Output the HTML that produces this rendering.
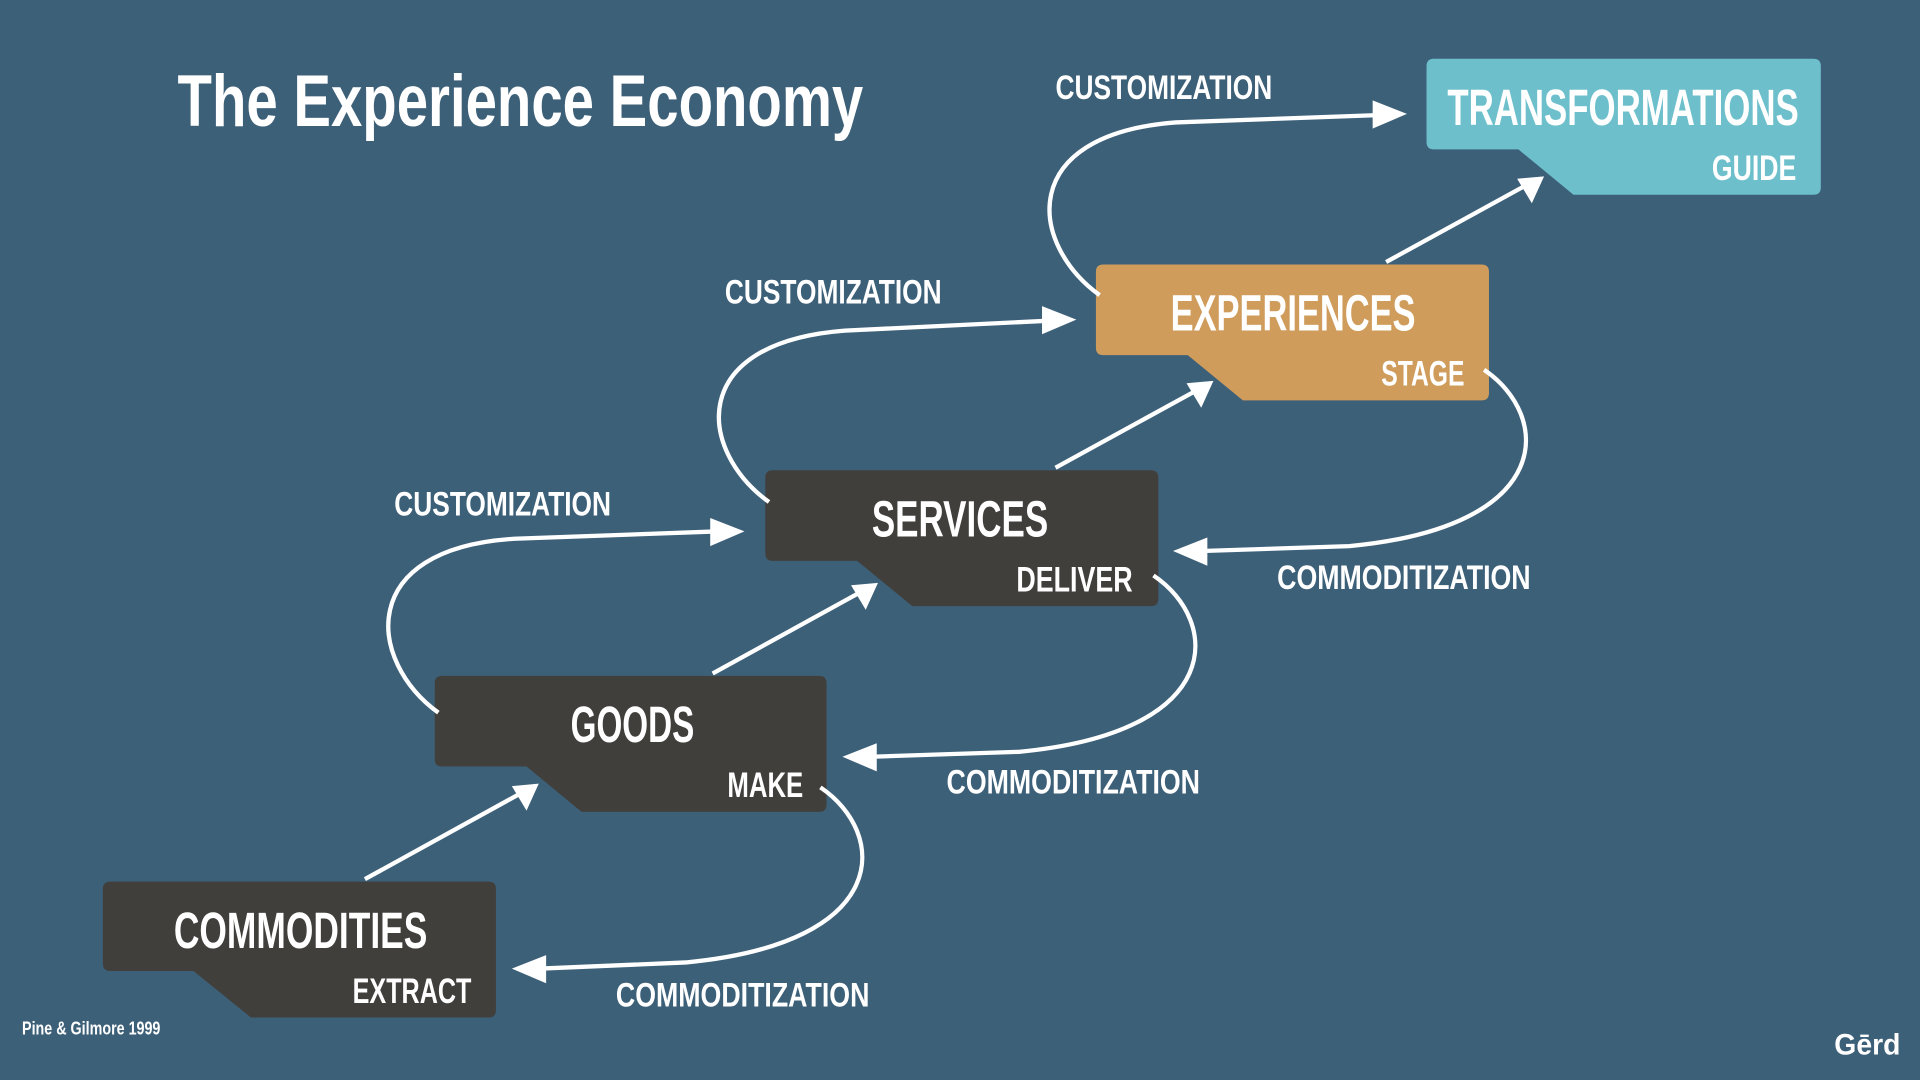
<!DOCTYPE html>
<html><head><meta charset="utf-8"><style>
html,body{margin:0;padding:0;background:#3d6079;width:1920px;height:1080px;overflow:hidden}
svg{display:block}
text{font-family:"Liberation Sans",sans-serif;font-weight:bold;fill:#fff}
</style></head><body>
<svg width="1920" height="1080" viewBox="0 0 1568 882" preserveAspectRatio="none">
<rect width="1568" height="882" fill="#3d6079"/>
<path d="M90,720 H399 Q405,720 405,726 V825 Q405,831 399,831 H205 L158,793 H90 Q84,793 84,787 V726 Q84,720 90,720Z" fill="#403f3c"/>
<path d="M361,552 H669 Q675,552 675,558 V657 Q675,663 669,663 H475 L430,626 H361 Q355,626 355,620 V558 Q355,552 361,552Z" fill="#403f3c"/>
<path d="M631,384 H940 Q946,384 946,390 V489 Q946,495 940,495 H745 L700,458 H631 Q625,458 625,452 V390 Q625,384 631,384Z" fill="#403f3c"/>
<path d="M901,216 H1210 Q1216,216 1216,222 V321 Q1216,327 1210,327 H1015 L970,290 H901 Q895,290 895,284 V222 Q895,216 901,216Z" fill="#cf9c5c"/>
<path d="M1171,48 H1481 Q1487,48 1487,54 V153 Q1487,159 1481,159 H1285 L1240,122 H1171 Q1165,122 1165,116 V54 Q1165,48 1171,48Z" fill="#6dbfcc"/>
<g fill="none" stroke="#fff" stroke-width="3.5">
<path d="M298,718 L425,648"/>
<path d="M582,550 L702,484"/>
<path d="M862,382 L975,320"/>
<path d="M1132,214 L1245,152"/>
<path d="M358,582 C300,540 290,448 420,440 L585,434"/>
<path d="M628,410 C570,368 560,280 690,270 L855,262"/>
<path d="M898,241 C840,199 830,110 960,100 L1125,94"/>
<path d="M670,643 C725,680 730,770 560,786 L442,791"/>
<path d="M942,470 C997,507 1002,598 832,614 L712,618"/>
<path d="M1212,302 C1267,339 1272,430 1102,446 L982,450"/>
</g>
<g fill="#fff">
<polygon points="440,640 418,642 430,662"/>
<polygon points="717,476 695,478 707,498"/>
<polygon points="991,311 969,313 981,333"/>
<polygon points="1261,144 1239,146 1251,166"/>
<polygon points="608,434 580,423 580,446"/>
<polygon points="879,261 851,250 851,273"/>
<polygon points="1149,93 1121,82 1121,105"/>
<polygon points="418,791 446,780 446,803"/>
<polygon points="688,618 716,607 716,630"/>
<polygon points="958,450 986,439 986,462"/>
</g>
<text x="145" y="103" font-size="60" textLength="560" lengthAdjust="spacingAndGlyphs">The Experience Economy</text>
<text x="142" y="774" font-size="42" textLength="207" lengthAdjust="spacingAndGlyphs">COMMODITIES</text>
<text x="288" y="819" font-size="29" textLength="97" lengthAdjust="spacingAndGlyphs">EXTRACT</text>
<text x="466" y="606" font-size="42" textLength="101" lengthAdjust="spacingAndGlyphs">GOODS</text>
<text x="594" y="651" font-size="29" textLength="62" lengthAdjust="spacingAndGlyphs">MAKE</text>
<text x="712" y="438" font-size="42" textLength="144" lengthAdjust="spacingAndGlyphs">SERVICES</text>
<text x="830" y="483" font-size="29" textLength="95" lengthAdjust="spacingAndGlyphs">DELIVER</text>
<text x="956" y="270" font-size="42" textLength="200" lengthAdjust="spacingAndGlyphs">EXPERIENCES</text>
<text x="1128" y="315" font-size="29" textLength="68" lengthAdjust="spacingAndGlyphs">STAGE</text>
<text x="1182" y="102" font-size="42" textLength="287" lengthAdjust="spacingAndGlyphs">TRANSFORMATIONS</text>
<text x="1398" y="147" font-size="29" textLength="69" lengthAdjust="spacingAndGlyphs">GUIDE</text>
<text x="322" y="421" font-size="28" textLength="177" lengthAdjust="spacingAndGlyphs">CUSTOMIZATION</text>
<text x="592" y="248" font-size="28" textLength="177" lengthAdjust="spacingAndGlyphs">CUSTOMIZATION</text>
<text x="862" y="81" font-size="28" textLength="177" lengthAdjust="spacingAndGlyphs">CUSTOMIZATION</text>
<text x="503" y="822" font-size="28" textLength="207" lengthAdjust="spacingAndGlyphs">COMMODITIZATION</text>
<text x="773" y="648" font-size="28" textLength="207" lengthAdjust="spacingAndGlyphs">COMMODITIZATION</text>
<text x="1043" y="481" font-size="28" textLength="207" lengthAdjust="spacingAndGlyphs">COMMODITIZATION</text>
<text x="18" y="845" font-size="15" textLength="113" lengthAdjust="spacingAndGlyphs">Pine &amp; Gilmore 1999</text>
<text x="1498" y="861" font-size="24" textLength="54" lengthAdjust="spacingAndGlyphs">Gērd</text>
</svg>
</body></html>
